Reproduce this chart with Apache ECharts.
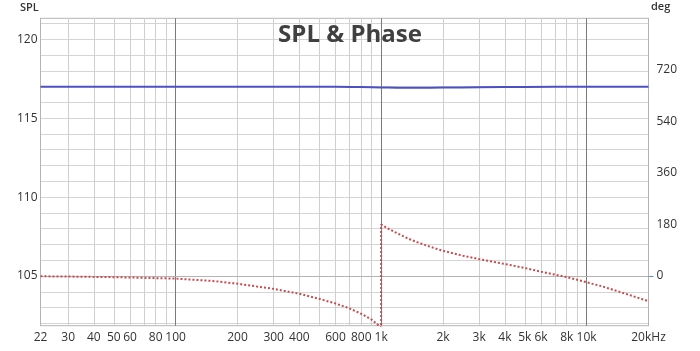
<!DOCTYPE html>
<html>
<head>
<meta charset="utf-8">
<script src="https://cdn.jsdelivr.net/npm/echarts@6/dist/echarts.min.js"></script>
<style>
  html, body { margin: 0; padding: 0; background: #fff; }
  #spl_chart { width: 700px; height: 351px; }
</style>
</head>
<body>
<div id="spl_chart"></div>
<script>
// SPL (left axis, dB)
const splFreq = [22, 100, 300, 600, 800, 1000, 1200, 1500, 2000, 3000, 5000, 10000, 20000]
const splVal = [117, 117, 117, 116.99, 116.97, 116.95, 116.93, 116.93, 116.94, 116.96, 116.98, 117, 117]

// phase (right axis, deg) - wraps at 1k
const phaseFreq = [22, 30, 50, 100, 150, 200, 300, 400, 500, 600, 700, 800, 900, 1000,
  1000, 1100, 1200, 1350, 1500, 1750, 2000, 2500, 3000, 4000, 5000, 6000, 8000, 10000, 12000, 15000, 20000]
const phaseVal = [-1, -2, -4, -9, -17, -27, -45, -62, -80, -96, -113, -132, -153, -180,
  180, 163, 149, 131, 118, 101, 88, 71, 59, 42, 28, 15, -4, -22, -37, -59, -88]

// ticks
const freqLabels = [22, 30, 40, 50, 60, 80, 100, 200, 300, 400, 600, 800, 1000,
  2000, 3000, 4000, 5000, 6000, 8000, 10000, 20000]
const freqGrid = [30, 40, 50, 60, 70, 80, 90, 200, 300, 400, 500, 600, 700, 800, 900,
  2000, 3000, 4000, 5000, 6000, 7000, 8000, 9000]
const freqDecades = [100, 1000, 10000]
const splLabels = [105, 110, 115, 120]
const splGrid = [102, 103, 104, 105, 106, 107, 108, 109, 110, 111, 112, 113, 114, 115,
  116, 117, 118, 119, 120, 121]
const degLabels = [0, 180, 360, 540, 720]

const FONT = 'Open Sans'

function fmtFreq(v) {
  if (v >= 20000) return '20kHz'
  if (v >= 1000) return v / 1000 + 'k'
  return '' + v
}

const chart = echarts.init(document.getElementById('spl_chart'))
const option = {
  animation: false,
  textStyle: { fontFamily: FONT },
  title: {
    text: 'SPL & Phase',
    left: 'center',
    top: 18,
    textStyle: { fontFamily: FONT, fontSize: 24, fontWeight: 'bold', color: '#404040' },
  },
  grid: {
    left: 40.5,
    right: 51.5,
    top: 18.3,
    bottom: 25.3,
    show: true,
    borderColor: '#b4b4b4',
    borderWidth: 1,
  },
  graphic: [
    { type: 'text', left: 20, top: 2, style: { text: 'SPL', font: '600 11px "Open Sans"', fill: '#333' } },
    { type: 'text', left: 651, top: 1, style: { text: 'deg', font: '600 11px "Open Sans"', fill: '#333' } },
  ],
  xAxis: [
    {
      type: 'log',
      logBase: 10,
      min: 22,
      max: 20000,
      axisLine: { show: true, lineStyle: { color: '#b4b4b4' } },
      axisTick: { show: false, customValues: freqGrid },
      axisLabel: {
        customValues: freqLabels,
        formatter: fmtFreq,
        color: '#333',
        fontSize: 12,
        margin: 6,
      },
      splitLine: { show: true, lineStyle: { color: '#cfcfcf', width: 1 } },
      minorTick: { show: false },
    },
    {
      type: 'log',
      logBase: 10,
      min: 22,
      max: 20000,
      position: 'bottom',
      axisLine: { show: false },
      axisTick: { show: false, customValues: freqDecades },
      axisLabel: { show: false },
      splitLine: { show: true, lineStyle: { color: '#7a7a7a', width: 1 } },
    },
  ],
  yAxis: [
    {
      type: 'value',
      min: 101.85,
      max: 121.33,
      axisLine: { show: true, lineStyle: { color: '#b4b4b4' } },
      axisTick: { show: false, customValues: splGrid },
      axisLabel: { customValues: splLabels, color: '#333', fontSize: 12, margin: 3 },
      splitLine: { show: true, lineStyle: { color: '#d4d4d4', width: 1 } },
    },
    {
      type: 'value',
      min: -173.7,
      max: 900.6,
      position: 'right',
      axisLine: { show: true, lineStyle: { color: '#b4b4b4' } },
      axisTick: { show: true, customValues: [0], length: 5, lineStyle: { color: '#5b8fd0' } },
      axisLabel: { customValues: degLabels, color: '#333', fontSize: 12, margin: 8 },
      splitLine: { show: false },
    },
  ],
  series: [
    {
      name: 'SPL',
      type: 'line',
      xAxisIndex: 0,
      yAxisIndex: 0,
      data: splFreq.map((f, i) => [f, splVal[i]]),
      showSymbol: false,
      smooth: true,
      lineStyle: { color: '#4b50c4', width: 2 },
      z: 3,
    },
    {
      name: 'Phase',
      type: 'line',
      xAxisIndex: 0,
      yAxisIndex: 1,
      data: phaseFreq.map((f, i) => [f, phaseVal[i]]),
      showSymbol: false,
      lineStyle: { color: '#c84b4e', width: 2, type: 'dotted' },
      z: 4,
    },
  ],
}
chart.setOption(option)
</script>
</body>
</html>
